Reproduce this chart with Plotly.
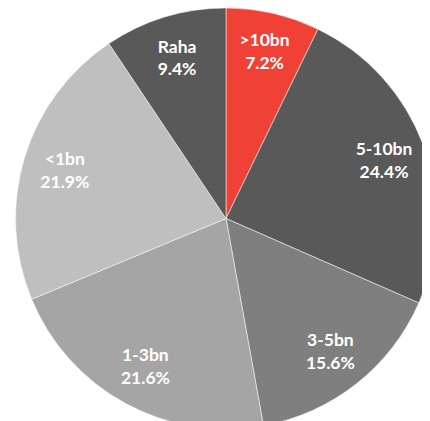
import plotly.graph_objects as go

labels = [">10bn", "5-10bn", "3-5bn", "1-3bn", "<1bn", "Raha"]
values = [7.2, 24.4, 15.6, 21.6, 21.9, 9.4]
colors = ["#EF4136", "#595959", "#7F7F7F", "#A5A5A5", "#BFBFBF", "#595959"]

dom = dict(x=[0.014, 1], y=[0, 1])

fig = go.Figure()
# filled slices
fig.add_trace(go.Pie(
    labels=labels, values=values, sort=False, direction="clockwise", rotation=0,
    marker=dict(colors=colors, line=dict(color="white", width=0.5)),
    textinfo="none", showlegend=False, domain=dom, hoverinfo="label+value",
))
# transparent ring used only to place labels further out
fig.add_trace(go.Pie(
    labels=labels, values=values, sort=False, direction="clockwise", rotation=0,
    hole=0.6,
    marker=dict(colors=["rgba(0,0,0,0)"] * len(values), line=dict(width=0)),
    texttemplate="%{label}<br>%{value:.1f}%",
    textposition="inside",
    insidetextorientation="horizontal",
    textfont=dict(family="Lato", size=17.5, color="white", weight="bold"),
    showlegend=False, domain=dom, hoverinfo="skip",
))
fig.update_layout(
    width=430, height=421,
    margin=dict(l=0, r=0, t=0, b=0),
    paper_bgcolor="white",
    uniformtext=dict(minsize=17.5, mode="show"),
)
fig.write_html("out.html")
